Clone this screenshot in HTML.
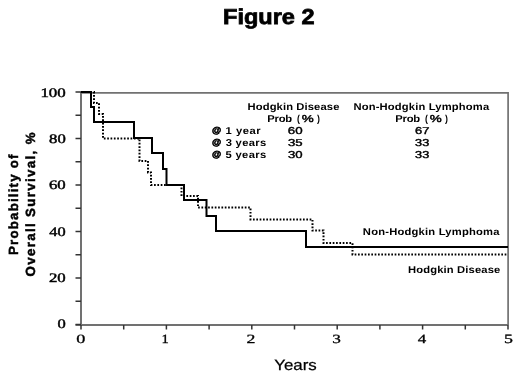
<!DOCTYPE html>
<html><head><meta charset="utf-8"><style>html,body{margin:0;padding:0;background:#fff;}svg{display:block;will-change:transform;}</style></head>
<body><svg width="520" height="377" viewBox="0 0 520 377" text-rendering="geometricPrecision">
<rect width="520" height="377" fill="#fff"/>
<g stroke="#717171" stroke-width="2" fill="none">
<line x1="81" y1="92.8" x2="508.1" y2="92.8" stroke-width="1.7"/>
<line x1="508.1" y1="92" x2="508.1" y2="325" stroke-width="1.7"/>
<line x1="81" y1="92" x2="81" y2="325"/>
<line x1="75.5" y1="325" x2="508" y2="325"/>
</g>
<g stroke="#333" stroke-width="1.5">
<line x1="75.5" y1="92.00" x2="81" y2="92.00"/><line x1="75.5" y1="115.25" x2="81" y2="115.25"/><line x1="75.5" y1="138.50" x2="81" y2="138.50"/><line x1="75.5" y1="161.75" x2="81" y2="161.75"/><line x1="75.5" y1="185.00" x2="81" y2="185.00"/><line x1="75.5" y1="208.25" x2="81" y2="208.25"/><line x1="75.5" y1="231.50" x2="81" y2="231.50"/><line x1="75.5" y1="254.75" x2="81" y2="254.75"/><line x1="75.5" y1="278.00" x2="81" y2="278.00"/><line x1="75.5" y1="301.25" x2="81" y2="301.25"/><line x1="75.5" y1="324.50" x2="81" y2="324.50"/><line x1="81.00" y1="325" x2="81.00" y2="329.5"/><line x1="123.70" y1="325" x2="123.70" y2="329.5"/><line x1="166.40" y1="325" x2="166.40" y2="329.5"/><line x1="209.10" y1="325" x2="209.10" y2="329.5"/><line x1="251.80" y1="325" x2="251.80" y2="329.5"/><line x1="294.50" y1="325" x2="294.50" y2="329.5"/><line x1="337.20" y1="325" x2="337.20" y2="329.5"/><line x1="379.90" y1="325" x2="379.90" y2="329.5"/><line x1="422.60" y1="325" x2="422.60" y2="329.5"/><line x1="465.30" y1="325" x2="465.30" y2="329.5"/><line x1="508.00" y1="325" x2="508.00" y2="329.5"/>
</g>
<polyline points="81,92 94,92 94,103 99,103 99,114 103,114 103,138.5 139.5,138.5 139.5,161 148,161 148,172.5 151,172.5 151,185 181.5,185 181.5,196 198,196 198,207.6 250.5,207.6 250.5,219.4 312.5,219.4 312.5,230.5 323.5,230.5 323.5,243 352.5,243 352.5,254.4 508,254.4" fill="none" stroke="#000" stroke-width="2" stroke-dasharray="1.7 1.6335" stroke-dashoffset="0.634"/>
<polyline points="81,92 91,92 91,107 94,107 94,122 134,122 134,138 152,138 152,153 163,153 163,169 166.5,169 166.5,185 184,185 184,200 206.5,200 206.5,216 216,216 216,231 306,231 306,247 508,247" fill="none" stroke="#000" stroke-width="2"/>
<g fill="#000">
<text x="223.03" y="23.90" font-family="Liberation Sans, sans-serif" font-size="21.60" font-weight="bold" textLength="91.52" lengthAdjust="spacingAndGlyphs" stroke="#000" stroke-width="0.75">Figure 2</text><text x="40.42" y="96.90" font-family="Liberation Serif, serif" font-size="13.00" font-weight="normal" textLength="25.33" lengthAdjust="spacingAndGlyphs" stroke="#000" stroke-width="0.45">100</text><text x="49.07" y="143.10" font-family="Liberation Serif, serif" font-size="13.00" font-weight="normal" textLength="16.67" lengthAdjust="spacingAndGlyphs" stroke="#000" stroke-width="0.45">80</text><text x="48.98" y="189.30" font-family="Liberation Serif, serif" font-size="13.00" font-weight="normal" textLength="16.76" lengthAdjust="spacingAndGlyphs" stroke="#000" stroke-width="0.45">60</text><text x="49.38" y="235.50" font-family="Liberation Serif, serif" font-size="13.00" font-weight="normal" textLength="16.34" lengthAdjust="spacingAndGlyphs" stroke="#000" stroke-width="0.45">40</text><text x="48.96" y="281.70" font-family="Liberation Serif, serif" font-size="13.00" font-weight="normal" textLength="16.78" lengthAdjust="spacingAndGlyphs" stroke="#000" stroke-width="0.45">20</text><text x="57.47" y="327.90" font-family="Liberation Serif, serif" font-size="13.00" font-weight="normal" textLength="8.26" lengthAdjust="spacingAndGlyphs" stroke="#000" stroke-width="0.45">0</text><text x="76.31" y="342.80" font-family="Liberation Serif, serif" font-size="12.60" font-weight="normal" textLength="9.08" lengthAdjust="spacingAndGlyphs" stroke="#000" stroke-width="0.3">0</text><text x="161.63" y="342.80" font-family="Liberation Serif, serif" font-size="12.60" font-weight="normal" textLength="7.24" lengthAdjust="spacingAndGlyphs" stroke="#000" stroke-width="0.3">1</text><text x="246.42" y="342.80" font-family="Liberation Serif, serif" font-size="12.60" font-weight="normal" textLength="8.86" lengthAdjust="spacingAndGlyphs" stroke="#000" stroke-width="0.3">2</text><text x="332.18" y="342.80" font-family="Liberation Serif, serif" font-size="12.60" font-weight="normal" textLength="8.59" lengthAdjust="spacingAndGlyphs" stroke="#000" stroke-width="0.3">3</text><text x="417.67" y="342.80" font-family="Liberation Serif, serif" font-size="12.60" font-weight="normal" textLength="8.50" lengthAdjust="spacingAndGlyphs" stroke="#000" stroke-width="0.3">4</text><text x="504.06" y="342.80" font-family="Liberation Serif, serif" font-size="12.60" font-weight="normal" textLength="8.94" lengthAdjust="spacingAndGlyphs" stroke="#000" stroke-width="0.3">5</text><text x="274.24" y="369.90" font-family="Liberation Sans, sans-serif" font-size="15.00" font-weight="normal" textLength="42.55" lengthAdjust="spacingAndGlyphs" stroke="#000" stroke-width="0.25">Years</text><text transform="scale(1.1200,1)" x="221.03" y="109.70" font-family="Liberation Sans, sans-serif" font-size="10.00" font-weight="bold" letter-spacing="0.101">Hodgkin Disease</text><text transform="scale(1.1200,1)" x="238.62" y="121.80" font-family="Liberation Sans, sans-serif" font-size="10.00" font-weight="bold" letter-spacing="-0.180">Prob</text><text x="296.96" y="121.80" font-family="Liberation Sans, sans-serif" font-size="10.00" font-weight="bold" textLength="2.95" lengthAdjust="spacingAndGlyphs">(</text><text x="301.82" y="121.80" font-family="Liberation Sans, sans-serif" font-size="10.00" font-weight="normal" textLength="11.96" lengthAdjust="spacingAndGlyphs" stroke="#000" stroke-width="0.45">%</text><text x="316.99" y="121.80" font-family="Liberation Sans, sans-serif" font-size="10.00" font-weight="bold" textLength="2.95" lengthAdjust="spacingAndGlyphs">)</text><text transform="scale(1.1200,1)" x="315.58" y="109.70" font-family="Liberation Sans, sans-serif" font-size="10.00" font-weight="bold" letter-spacing="0.138">Non-Hodgkin Lymphoma</text><text transform="scale(1.1200,1)" x="352.90" y="121.80" font-family="Liberation Sans, sans-serif" font-size="10.00" font-weight="bold" letter-spacing="-0.180">Prob</text><text x="424.96" y="121.80" font-family="Liberation Sans, sans-serif" font-size="10.00" font-weight="bold" textLength="2.95" lengthAdjust="spacingAndGlyphs">(</text><text x="429.82" y="121.80" font-family="Liberation Sans, sans-serif" font-size="10.00" font-weight="normal" textLength="11.96" lengthAdjust="spacingAndGlyphs" stroke="#000" stroke-width="0.45">%</text><text x="444.99" y="121.80" font-family="Liberation Sans, sans-serif" font-size="10.00" font-weight="bold" textLength="2.95" lengthAdjust="spacingAndGlyphs">)</text><text transform="translate(211.962,132.933) scale(0.09420,0.08639)" font-family="Liberation Sans, sans-serif" font-size="100" font-weight="bold" stroke="#000" stroke-width="6.645">@</text><text transform="scale(1.1200,1)" x="201.33" y="134.10" font-family="Liberation Sans, sans-serif" font-size="10.00" font-weight="bold" letter-spacing="0.498">1 year</text><text x="287.82" y="134.10" font-family="Liberation Sans, sans-serif" font-size="10.00" font-weight="normal" textLength="14.80" lengthAdjust="spacingAndGlyphs" stroke="#000" stroke-width="0.4">60</text><text x="414.94" y="134.10" font-family="Liberation Sans, sans-serif" font-size="10.00" font-weight="normal" textLength="14.41" lengthAdjust="spacingAndGlyphs" stroke="#000" stroke-width="0.4">67</text><text transform="translate(211.962,145.033) scale(0.09420,0.08639)" font-family="Liberation Sans, sans-serif" font-size="100" font-weight="bold" stroke="#000" stroke-width="6.645">@</text><text transform="scale(1.1200,1)" x="201.47" y="146.20" font-family="Liberation Sans, sans-serif" font-size="10.00" font-weight="bold" letter-spacing="0.283">3 years</text><text x="288.00" y="146.20" font-family="Liberation Sans, sans-serif" font-size="10.00" font-weight="normal" textLength="14.66" lengthAdjust="spacingAndGlyphs" stroke="#000" stroke-width="0.4">35</text><text x="415.12" y="146.20" font-family="Liberation Sans, sans-serif" font-size="10.00" font-weight="normal" textLength="14.14" lengthAdjust="spacingAndGlyphs" stroke="#000" stroke-width="0.4">33</text><text transform="translate(211.962,157.033) scale(0.09420,0.08639)" font-family="Liberation Sans, sans-serif" font-size="100" font-weight="bold" stroke="#000" stroke-width="6.645">@</text><text transform="scale(1.1200,1)" x="201.39" y="158.20" font-family="Liberation Sans, sans-serif" font-size="10.00" font-weight="bold" letter-spacing="0.296">5 years</text><text x="288.00" y="158.20" font-family="Liberation Sans, sans-serif" font-size="10.00" font-weight="normal" textLength="14.61" lengthAdjust="spacingAndGlyphs" stroke="#000" stroke-width="0.4">30</text><text x="415.12" y="158.20" font-family="Liberation Sans, sans-serif" font-size="10.00" font-weight="normal" textLength="14.14" lengthAdjust="spacingAndGlyphs" stroke="#000" stroke-width="0.4">33</text><text transform="scale(1.1200,1)" x="323.97" y="235.10" font-family="Liberation Sans, sans-serif" font-size="10.00" font-weight="bold" letter-spacing="0.180">Non-Hodgkin Lymphoma</text><text transform="scale(1.1200,1)" x="364.33" y="272.60" font-family="Liberation Sans, sans-serif" font-size="10.00" font-weight="bold" letter-spacing="0.126">Hodgkin Disease</text>
<g transform="translate(18.40,0) rotate(-90)"><text transform="scale(1.0000,1)" x="-254.99" y="0.00" font-family="Liberation Sans, sans-serif" font-size="13.30" font-weight="bold" letter-spacing="1.191" stroke="#000" stroke-width="0.45">Probability of</text></g><g transform="translate(35.40,0) rotate(-90)"><text transform="scale(1.0000,1)" x="-276.55" y="0.00" font-family="Liberation Sans, sans-serif" font-size="13.30" font-weight="bold" letter-spacing="1.352" stroke="#000" stroke-width="0.45">Overall Survival, %</text></g>
</g>
</svg></body></html>
